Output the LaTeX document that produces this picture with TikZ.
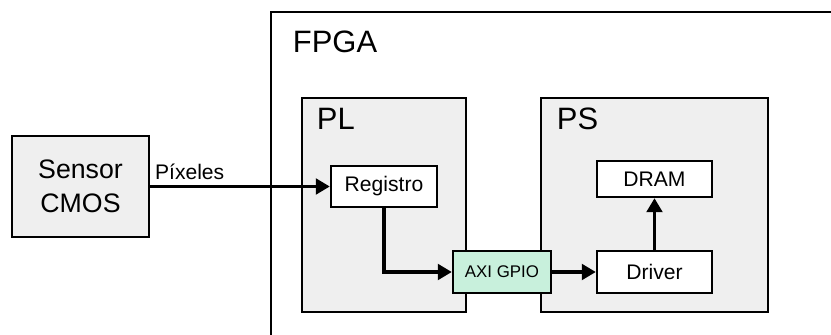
\documentclass[tikz,border=0pt]{standalone}
\usepackage{fontspec}
\setmainfont{Liberation Sans}
\usepackage{xcolor}
\usepackage{tikz}
\usetikzlibrary{arrows.meta}
\usetikzlibrary{positioning, calc}

\definecolor{zonegray}{HTML}{EFEFEF}
\definecolor{axigreen}{HTML}{C8F0DC}

\begin{document}
\begin{tikzpicture}[
    blockbox/.style={draw, line width=1.6pt, fill=white, minimum height=1.05cm, inner sep=0pt, font=\fontsize{15}{17}\selectfont},
    zone/.style={draw, line width=1.6pt, fill=zonegray},
    link/.style={line width=2.6pt, -{Triangle[length=10pt,width=11pt]}}
]
                % frame of the picture
                \clip (0,0) rectangle (20.775,-8.375);
                % FPGA
                \draw[line width=1.8pt] (6.775,-0.3) rectangle (21.5,-9);
                \node[anchor=base west, font=\fontsize{22}{24}\selectfont] (fpgalbl) at (7.2,-1.325) {FPGA};
                % PL and PS
                \draw[zone] (7.55,-2.45) rectangle (11.65,-7.8);
                \draw[zone] (13.525,-2.45) rectangle (19.2,-7.8);
                \node[anchor=base west, font=\fontsize{22}{24}\selectfont] (pllbl) at (7.8,-3.25) {PL};
                \node[anchor=base west, font=\fontsize{22}{24}\selectfont] (pslbl) at (13.8,-3.25) {PS};
                % blocks
                \node[blockbox, fill=zonegray, minimum width=3.425cm, minimum height=2.525cm, align=center, font=\fontsize{19}{24}\selectfont] (sensor) at (2.0125,-4.6625) {Sensor\\CMOS};
                \node[blockbox, minimum width=2.65cm, minimum height=1.025cm] (registro) at (9.6,-4.6625) {Registro};
                \node[blockbox, minimum width=2.875cm, minimum height=0.9cm] (dram) at (16.3625,-4.475) {DRAM};
                \node[blockbox, minimum width=2.875cm] (driver) at (16.3625,-6.8) {Driver};
                \node[blockbox, fill=axigreen, minimum width=2.45cm, font=\fontsize{12}{14}\selectfont] (axi) at (12.55,-6.8) {AXI GPIO};
                % connectors
                \draw[link] (sensor) -- node[above, pos=0.22, font=\fontsize{15}{17}\selectfont] {Píxeles} (registro);
                \draw[link] (registro.south) |- (axi.west);
                \draw[link] (axi) -- (driver);
                \draw[link] (driver) -- (dram);
            \end{tikzpicture}
\end{document}
